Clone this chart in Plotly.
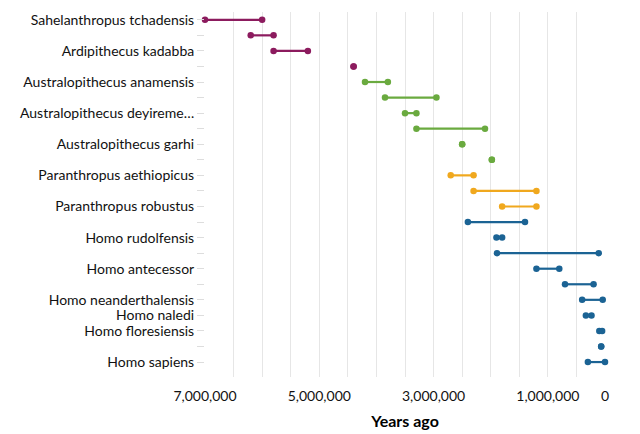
import plotly.graph_objects as go

species = [
    "Sahelanthropus tchadensis", "Orrorin tugenensis", "Ardipithecus kadabba",
    "Ardipithecus ramidus", "Australopithecus anamensis", "Australopithecus afarensis",
    "Australopithecus deyiremeda", "Australopithecus africanus", "Australopithecus garhi",
    "Australopithecus sediba", "Paranthropus aethiopicus", "Paranthropus boisei",
    "Paranthropus robustus", "Homo habilis", "Homo rudolfensis", "Homo erectus",
    "Homo antecessor", "Homo heidelbergensis", "Homo neanderthalensis", "Homo naledi",
    "Homo floresiensis", "Homo luzonensis", "Homo sapiens",
]
tick_labels = [
    "Sahelanthropus tchadensis", "", "Ardipithecus kadabba", "",
    "Australopithecus anamensis", "", "Australopithecus deyireme…", "",
    "Australopithecus garhi", "", "Paranthropus aethiopicus", "",
    "Paranthropus robustus", "", "Homo rudolfensis", "",
    "Homo antecessor", "", "Homo neanderthalensis", "Homo naledi",
    "Homo floresiensis", "", "Homo sapiens",
]
start_years = [7000000, 6200000, 5800000, 4400000, 4200000, 3850000, 3500000, 3300000,
               2500000, 1980000, 2700000, 2300000, 1800000, 2400000, 1900000, 1890000,
               1200000, 700000, 400000, 335000, 100000, 67000, 300000]
end_years = [6000000, 5800000, 5200000, 4400000, 3800000, 2950000, 3300000, 2100000,
             2500000, 1980000, 2300000, 1200000, 1200000, 1400000, 1800000, 110000,
             800000, 200000, 40000, 236000, 50000, 67000, 0]
groups = ["early"] * 4 + ["australopithecus"] * 6 + ["paranthropus"] * 3 + ["homo"] * 10
group_colors = {"early": "#8c1b5e", "australopithecus": "#6aaa3f",
                "paranthropus": "#f0a81e", "homo": "#1b6394"}

x_gridvals = [7000000, 6500000, 6000000, 5500000, 5000000, 4500000, 4000000, 3500000,
              3000000, 2500000, 2000000, 1500000, 1000000, 500000, 0]
x_labeled = {7000000: "7,000,000", 5000000: "5,000,000", 3000000: "3,000,000",
             1000000: "1,000,000", 0: "0"}

FONT = "Lato, 'Source Sans Pro', sans-serif"

fig = go.Figure()
for i, name in enumerate(species):
    c = group_colors[groups[i]]
    fig.add_trace(go.Scatter(
        x=[start_years[i], end_years[i]], y=[i, i],
        mode="lines+markers",
        line=dict(color=c, width=2.2),
        marker=dict(color=c, size=6.5),
        name=name, showlegend=False, cliponaxis=False,
    ))

fig.update_layout(
    width=640, height=434,
    margin=dict(l=197, r=43, t=4, b=65),
    plot_bgcolor="white", paper_bgcolor="white",
    font=dict(family=FONT, size=14, color="#111111"),
    xaxis=dict(
        range=[7000000, 0],
        tickvals=x_gridvals,
        ticktext=[x_labeled.get(v, "") for v in x_gridvals],
        showgrid=True, gridcolor="#e6e6e6", gridwidth=1.3,
        zeroline=False, showline=False,
        ticks="outside", ticklen=6, tickcolor="rgba(0,0,0,0)",
        tickfont=dict(size=14, color="#111111"),
        title=dict(text="<b>Years ago</b>", font=dict(size=16, color="#000000"), standoff=13),
    ),
    yaxis=dict(
        range=[22.96, -0.5],
        tickvals=list(range(len(species))),
        ticktext=tick_labels,
        showgrid=False, zeroline=False, showline=False,
        ticks="outside", ticklen=7, tickcolor="#dddddd", tickwidth=1,
        tickfont=dict(size=14, color="#111111"),
    ),
)

fig.write_html("out.html")
